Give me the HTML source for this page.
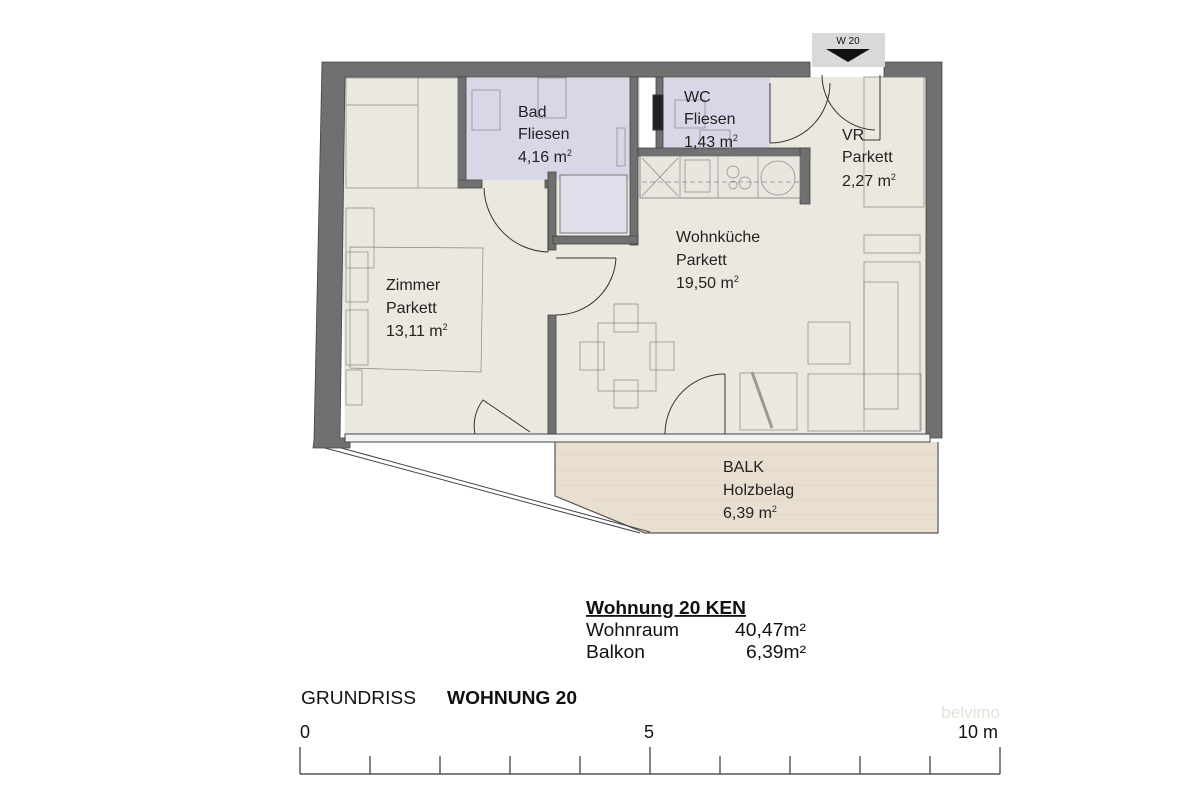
<!DOCTYPE html>
<html><head><meta charset="utf-8"><style>
html,body{margin:0;padding:0;background:#fff;}
svg{display:block;}
text{font-family:"Liberation Sans",Arial,sans-serif;}
</style></head><body>
<svg width="1200" height="800" viewBox="0 0 1200 800" xmlns="http://www.w3.org/2000/svg">
<polygon points="340,77 930,77 930,438 345,438" fill="#ebe8e0"/>
<polygon points="555,442 938,442 938,533 645,533 555,496" fill="#e9dfd1"/>
<g stroke="#d9cdbd" stroke-width="0.6">
<line x1="556" y1="455" x2="937" y2="455"/><line x1="556" y1="470" x2="937" y2="470"/><line x1="556" y1="485" x2="937" y2="485"/><line x1="590" y1="500" x2="937" y2="500"/><line x1="630" y1="515" x2="937" y2="515"/>
</g>
<polyline points="555,442 555,496 645,533 938,533 938,442" fill="none" stroke="#555" stroke-width="1.2"/>
<line x1="325" y1="448" x2="640" y2="533" stroke="#444" stroke-width="1"/>
<line x1="334" y1="446" x2="650" y2="532" stroke="#444" stroke-width="1"/>
<rect x="466" y="78" width="164" height="102" fill="#d7d7e8"/>
<rect x="663" y="78" width="107" height="70" fill="#d7d7e8"/>
<rect x="640" y="78" width="16" height="70" fill="#fff"/>
<g fill="#707070" stroke="#444" stroke-width="0.8">
<polygon points="322,62 810,62 810,77 345,77 340,438 350,438 350,448 313,448 314,440"/>
<polygon points="884,62 942,62 942,438 926,438 926,77 884,77"/>
<rect x="458" y="77" width="8" height="111"/>
<rect x="458" y="180" width="24" height="8"/>
<rect x="545" y="180" width="10" height="8"/>
<rect x="548" y="172" width="8" height="78"/>
<rect x="548" y="315" width="8" height="125"/>
<rect x="630" y="77" width="8" height="168"/>
<rect x="553" y="236" width="85" height="8"/>
<rect x="656" y="77" width="7" height="78"/>
<rect x="638" y="148" width="172" height="8"/>
<rect x="800" y="148" width="10" height="56"/>
</g>
<rect x="345" y="434" width="585" height="8" fill="#f2f2f2" stroke="#444" stroke-width="1"/>
<rect x="560" y="175" width="67" height="58" fill="#e0e0ec" stroke="#777" stroke-width="1"/>
<rect x="640" y="156" width="160" height="42" fill="#e8e6df" stroke="#777" stroke-width="0.8"/>
<g stroke="#888" stroke-width="0.7" fill="none">
<line x1="642" y1="158" x2="678" y2="196"/><line x1="678" y1="158" x2="642" y2="196"/>
<line x1="680" y1="156" x2="680" y2="198"/><rect x="685" y="160" width="25" height="32"/>
<line x1="718" y1="156" x2="718" y2="198"/><line x1="758" y1="156" x2="758" y2="198"/>
<circle cx="733" cy="172" r="6"/><circle cx="745" cy="183" r="6"/><circle cx="733" cy="185" r="4"/>
<circle cx="778" cy="178" r="17"/>
<line x1="642" y1="182" x2="800" y2="182" stroke-dasharray="5,3"/>
<rect x="472" y="90" width="28" height="40"/>
<rect x="538" y="78" width="28" height="40"/>
<rect x="617" y="128" width="8" height="38"/>
<rect x="675" y="100" width="30" height="28"/>
<rect x="700" y="130" width="30" height="22"/>
<rect x="346" y="78" width="112" height="110"/>
<line x1="418" y1="78" x2="418" y2="188"/>
<line x1="346" y1="105" x2="418" y2="105"/>
<rect x="346" y="208" width="28" height="60"/>
<polygon points="350,247 483,248 481,372 350,368"/>
<rect x="346" y="252" width="22" height="50"/><rect x="346" y="310" width="22" height="55"/>
<rect x="346" y="370" width="16" height="35"/>
<rect x="598" y="323" width="58" height="68"/>
<rect x="614" y="304" width="24" height="28"/><rect x="614" y="380" width="24" height="28"/>
<rect x="580" y="342" width="24" height="28"/><rect x="650" y="342" width="24" height="28"/>
<rect x="740" y="373" width="57" height="57"/>
<rect x="808" y="322" width="42" height="42"/>
<rect x="808" y="374" width="113" height="57"/>
<rect x="864" y="262" width="56" height="169"/>
<rect x="864" y="282" width="34" height="127"/>
<rect x="864" y="235" width="56" height="18"/>
<rect x="864" y="77" width="60" height="130"/>
<line x1="752" y1="372" x2="772" y2="428" stroke-width="3" stroke="#999"/>
</g>
<g stroke="#333" stroke-width="1" fill="none">
<path d="M484,188 A66,66 0 0 0 548,252"/><line x1="548" y1="188" x2="548" y2="252"/>
<path d="M556,315 A60,60 0 0 0 616,258"/><line x1="556" y1="258" x2="616" y2="258"/>
<path d="M475,434 A42,42 0 0 1 483,400 L530,432"/>
<path d="M665,434 A60,60 0 0 1 725,374"/><line x1="725" y1="374" x2="725" y2="434"/>
<path d="M770,143 A60,60 0 0 0 830,83"/><path d="M770,83 L770,143"/>
<path d="M822,75 A55,55 0 0 0 875,130"/>
<line x1="880" y1="75" x2="880" y2="140"/><line x1="862" y1="140" x2="880" y2="140"/>
<rect x="653" y="95" width="10" height="35" fill="#222"/>
</g>
<rect x="812" y="33" width="73" height="34" fill="#d9d9d9"/>
<polygon points="826,49 870,49 848,62" fill="#111"/>
<text x="848" y="44" font-size="10" text-anchor="middle" fill="#111">W 20</text>
<g font-size="16" fill="#222">
<text x="518" y="117">Bad</text><text x="518" y="139">Fliesen</text><text x="518" y="162">4,16 m<tspan font-size="9" dy="-6">2</tspan></text>
<text x="684" y="102">WC</text><text x="684" y="124">Fliesen</text><text x="684" y="147">1,43 m<tspan font-size="9" dy="-6">2</tspan></text>
<text x="842" y="140">VR</text><text x="842" y="162">Parkett</text><text x="842" y="186">2,27 m<tspan font-size="9" dy="-6">2</tspan></text>
<text x="676" y="242">Wohnküche</text><text x="676" y="265">Parkett</text><text x="676" y="288">19,50 m<tspan font-size="9" dy="-6">2</tspan></text>
<text x="386" y="290">Zimmer</text><text x="386" y="313">Parkett</text><text x="386" y="336">13,11 m<tspan font-size="9" dy="-6">2</tspan></text>
<text x="723" y="472">BALK</text><text x="723" y="495">Holzbelag</text><text x="723" y="518">6,39 m<tspan font-size="9" dy="-6">2</tspan></text>
</g>
<g font-size="18" fill="#111">
<text x="586" y="614" font-weight="bold" text-decoration="underline" textLength="160" lengthAdjust="spacingAndGlyphs">Wohnung 20 KEN</text>
<text x="586" y="636" textLength="93" lengthAdjust="spacingAndGlyphs">Wohnraum</text><text x="735" y="636" textLength="71" lengthAdjust="spacingAndGlyphs">40,47m²</text>
<text x="586" y="658" textLength="59" lengthAdjust="spacingAndGlyphs">Balkon</text><text x="746" y="658" textLength="60" lengthAdjust="spacingAndGlyphs">6,39m²</text>
<text x="301" y="704" textLength="115" lengthAdjust="spacingAndGlyphs">GRUNDRISS</text>
<text x="447" y="704" font-weight="bold" textLength="130" lengthAdjust="spacingAndGlyphs">WOHNUNG 20</text>
<text x="300" y="738">0</text><text x="644" y="738">5</text><text x="998" y="738" text-anchor="end">10 m</text>
</g>
<text x="1000" y="718" font-size="17" fill="#e6e2da" text-anchor="end" font-family="Liberation Serif,serif">belvimo</text>
<g stroke="#333" stroke-width="1.2">
<line x1="300" y1="774" x2="1000" y2="774"/>
<line x1="300" y1="747" x2="300" y2="774"/><line x1="650" y1="747" x2="650" y2="774"/><line x1="1000" y1="747" x2="1000" y2="774"/>
<line x1="370" y1="756" x2="370" y2="774"/><line x1="440" y1="756" x2="440" y2="774"/><line x1="510" y1="756" x2="510" y2="774"/><line x1="580" y1="756" x2="580" y2="774"/>
<line x1="720" y1="756" x2="720" y2="774"/><line x1="790" y1="756" x2="790" y2="774"/><line x1="860" y1="756" x2="860" y2="774"/><line x1="930" y1="756" x2="930" y2="774"/>
</g>
</svg>
</body></html>
